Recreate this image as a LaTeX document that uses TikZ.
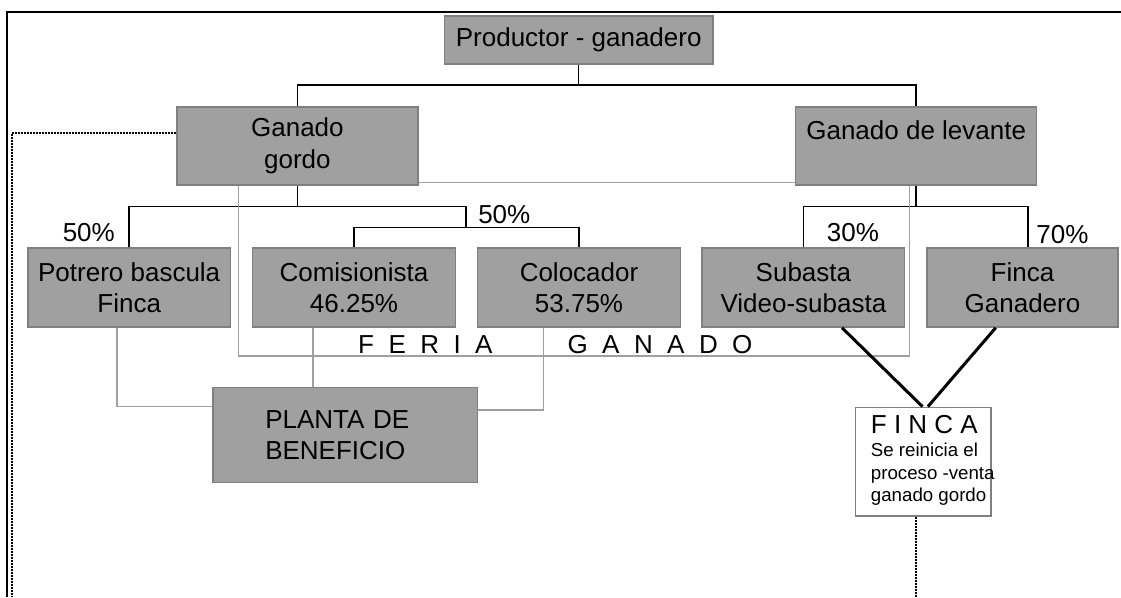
\documentclass[tikz,border=0pt]{standalone}
\usepackage{fontspec}
\setmainfont{Liberation Sans}
\usepackage{tikz}

\definecolor{boxfill}{RGB}{160,160,160}
\definecolor{boxedge}{RGB}{128,128,128}
\newcommand{\boxfont}{\fontsize{26}{31.5}\selectfont}
\newcommand{\notefont}{\fontsize{18.7}{22.5}\selectfont}

\begin{document}
\begin{tikzpicture}[x=1pt,y=1pt,yscale=-1,
    box/.style={draw=boxedge,fill=boxfill,line width=1.5pt,inner sep=0pt,align=center,font=\boxfont},
    link/.style={line width=1.5pt},
    greylink/.style={draw=boxfill,line width=1.5pt},
    heavylink/.style={line width=3pt},
    dotlink/.style={line width=1.5pt,dash pattern=on 2pt off 1pt},
    pct/.style={inner sep=0pt,font=\boxfont}]
    \useasboundingbox (0,0) rectangle (1121,597);
    % frame
    \draw [line width=2pt] (7,597) -- (7,12) -- (1121,12);

    % boxes
    \node [box,minimum width=268.3,minimum height=48] (prod) at (578.7,40) {Productor - ganadero};
    \node [box,minimum width=241,minimum height=78] (gordo) at (297.4,146) {Ganado\\gordo};
    \node [box,minimum width=241,minimum height=78] (levante) at (916.2,146) {Ganado de levante\\\mbox{}};
    \node [box,minimum width=202.5,minimum height=79] (potrero) at (129.2,287.5) {Potrero bascula\\Finca};
    \node [box,minimum width=203,minimum height=79] (comis) at (354,287.5) {Comisionista\\46.25\%};
    \node [box,minimum width=203,minimum height=79] (coloc) at (579,287.5) {Colocador\\53.75\%};
    \node [box,minimum width=202.5,minimum height=79] (subasta) at (803.4,287.5) {Subasta\\Video-subasta};
    \node [box,minimum width=191,minimum height=79] (fganad) at (1022.5,287.5) {Finca\\Ganadero};
    \node [box,minimum width=264.5,minimum height=95.4,align=left,text width=160,inner xsep=52.25pt] (planta) at (345.25,435) {PLANTA DE\\BENEFICIO};
    \node [draw=boxedge,fill=white,line width=1.5pt,minimum width=135.6,minimum height=108.7,inner sep=0pt] (finca) at (923.2,461.7) {};
    \node [pct,anchor=west] (fincat) at (870.7,425) {F I N C A};
    \node [inner sep=0pt,anchor=west,align=left,font=\notefont] (fincan) at (870.7,474.2) {Se reinicia el\\proceso -venta\\ganado gordo};

    % labels
    \node [pct] (p50a) at (88.8,233) {50\%};
    \node [pct] (p50b) at (504.3,215) {50\%};
    \node [pct] (p30) at (853,233) {30\%};
    \node [pct] (p70) at (1062.4,235) {70\%};
    \node [pct,anchor=base west] (feria) at (358,353.3) {F\ \ E\ \ R\ \ I\ \ A\hspace{75pt}G\ \ A\ \ N\ \ A\ \ D\ \ O};

    % tree
    \coordinate (jtop) at (578.7,85);
    \coordinate (jgordo) at (297.4,206.7);
    \coordinate (jferia) at (466,227.7);
    \coordinate (jlev) at (916.2,206.7);
    \draw [link] (prod.south) -- (jtop);
    \draw [link] (gordo.north) |- (jtop) -| (levante.north);
    \draw [link] (gordo.south) -- (jgordo);
    \draw [link] (potrero.north) |- (jgordo) -| (jferia);
    \draw [link] (comis.north) |- (jferia) -| (coloc.north);
    \draw [link] (levante.south) -- (jlev);
    \draw [link] (subasta.north) |- (jlev) -| ([xshift=5.5pt]fganad.north);

    % grey links
    \coordinate (comfoot) at ([xshift=-40.8pt]comis.south);
    \draw [greylink] ([yshift=-3.4pt]gordo.south east) -- ([yshift=-3.4pt]levante.south west);
    \draw [greylink] ([xshift=-59.1pt]gordo.south) -- ++(0,170) -| ([xshift=-6.9pt]levante.south);
    \draw [greylink] ([xshift=-12.4pt]potrero.south) |- ([yshift=-28.3pt]planta.west);
    \draw [greylink] (comfoot) -- (comfoot |- planta.north);
    \draw [greylink] ([xshift=-35.4pt]coloc.south) |- ([yshift=-25pt]planta.east);

    % back to finca
    \draw [heavylink] ([xshift=38.6pt]subasta.south) -- ([xshift=-0.7pt]finca.north);
    \draw [heavylink] ([xshift=-26.8pt]fganad.south) -- ([xshift=4.7pt]finca.north);
    \coordinate (dleft) at (11.8,597);
    \draw [dotlink] ([yshift=-13pt]gordo.west) -| (dleft);
    \draw [dotlink] ([xshift=-7.2pt]finca.south) -- ++(0,81);
\end{tikzpicture}
\end{document}
